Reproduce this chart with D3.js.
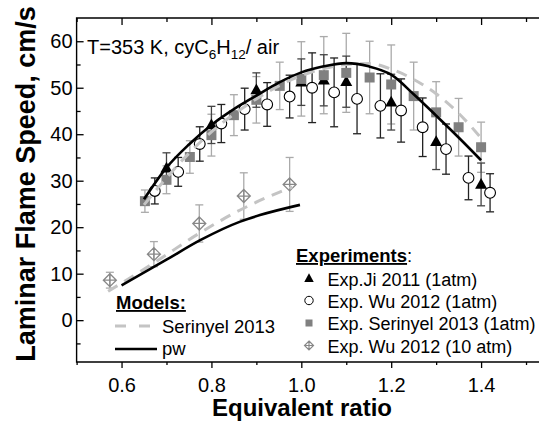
<!DOCTYPE html>
<html>
<head>
<meta charset="utf-8">
<script src="https://cdn.jsdelivr.net/npm/d3@7"></script>
<style>
  body { margin: 0; background: #fff; }
  text { font-family: "Liberation Sans", Arial, sans-serif; }
</style>
</head>
<body>
<script>
// data
let phiJi = [0.70, 0.80, 0.90, 1.00, 1.05, 1.10, 1.20, 1.30, 1.40];
let suJi = [32.7, 42.0, 49.5, 51.2, 51.6, 51.3, 46.9, 38.4, 29.2];
let errJi = [3.3, 4.0, 3.7, 5.0, 5.5, 5.5, 6.0, 6.0, 4.6];

let phiWu = [0.674, 0.726, 0.774, 0.822, 0.874, 0.924, 0.974, 1.024, 1.073, 1.124, 1.176, 1.222, 1.270, 1.322, 1.372, 1.420];
let suWu = [27.8, 31.9, 37.9, 42.3, 45.4, 46.4, 48.1, 50.0, 49.0, 47.6, 46.1, 45.1, 41.5, 36.8, 30.6, 27.4];
let errWu = [2.8, 3.1, 3.7, 4.1, 4.5, 4.7, 4.6, 7.5, 7.4, 7.5, 6.9, 6.8, 6.3, 5.4, 4.7, 4.1];

let phiSer = [0.652, 0.70, 0.752, 0.80, 0.85, 0.90, 0.952, 1.00, 1.05, 1.10, 1.152, 1.20, 1.25, 1.30, 1.35, 1.40];
let suSer = [25.6, 30.2, 35.1, 39.8, 44.1, 47.4, 50.4, 51.9, 52.7, 53.2, 52.2, 50.7, 48.2, 44.7, 41.5, 37.2];
let errSer = [2.4, 3.0, 3.5, 4.5, 4.4, 5.0, 5.1, 8.0, 8.3, 8.5, 7.8, 8.5, 7.3, 6.6, 6.2, 5.4];

let phiWu10 = [0.574, 0.672, 0.773, 0.872, 0.974];
let suWu10 = [8.6, 14.2, 20.8, 26.7, 29.2];
let errWu10 = [1.7, 2.7, 4.0, 5.0, 5.8];

// model curves
let phiModel1 = [0.65, 0.70, 0.75, 0.80, 0.85, 0.90, 0.95, 1.00, 1.05, 1.10, 1.15, 1.20, 1.25, 1.30, 1.35, 1.40];
let pw1 = [26.0, 32.8, 37.8, 42.0, 45.4, 48.3, 51.1, 53.3, 54.6, 55.3, 54.6, 52.8, 48.6, 44.0, 39.3, 34.4];
let ser1 = [24.8, 30.6, 35.9, 40.5, 44.3, 47.6, 50.4, 52.6, 54.1, 55.0, 55.2, 54.0, 51.8, 48.7, 44.5, 39.2];

let phiSer10 = [0.57, 0.672, 0.773, 0.864, 0.953, 0.98];
let ser10 = [6.2, 12.3, 18.7, 23.7, 27.6, 28.6];
let phiPw10 = [0.60, 0.70, 0.775, 0.864, 0.908, 0.997];
let pw10 = [7.5, 13.0, 17.2, 21.2, 22.6, 24.8];

let xMajor = [0.6, 0.8, 1.0, 1.2, 1.4];
let xMinor = [0.5, 0.7, 0.9, 1.1, 1.3, 1.5];
let yMajor = [0, 10, 20, 30, 40, 50, 60];
let yMinor = [-5, 5, 15, 25, 35, 45, 55];

let width = 539;
let height = 423;
let svg = d3.select("body").append("svg")
  .attr("width", width)
  .attr("height", height);

let x = d3.scaleLinear().domain([0.5, 1.55]).range([76.6, 548.5]);
let y = d3.scaleLinear().domain([-9, 65]).range([362, 18]);

// axes
svg.append("g")
  .attr("transform", "translate(0,362)")
  .call(d3.axisBottom(x).tickValues(xMajor).tickFormat(d3.format(".1f")).tickSize(6).tickPadding(9.5))
  .call(g => g.select(".domain").remove())
  .call(g => g.selectAll("text").attr("font-size", 20).attr("fill", "#000").style("font-family", "Liberation Sans, Arial, sans-serif"));
svg.append("g")
  .attr("transform", "translate(0,362)")
  .call(d3.axisBottom(x).tickValues(xMinor).tickFormat("").tickSize(3))
  .call(g => g.select(".domain").remove());
svg.append("g")
  .attr("transform", "translate(0,18)")
  .call(d3.axisTop(x).tickValues(xMajor).tickFormat("").tickSize(-7))
  .call(g => g.select(".domain").remove());
svg.append("g")
  .attr("transform", "translate(0,18)")
  .call(d3.axisTop(x).tickValues(xMinor).tickFormat("").tickSize(-4))
  .call(g => g.select(".domain").remove());
svg.append("g")
  .attr("transform", "translate(76.6,0)")
  .call(d3.axisLeft(y).tickValues(yMajor).tickSize(-7).tickPadding(4))
  .call(g => g.select(".domain").remove())
  .call(g => g.selectAll("text").attr("font-size", 20).attr("fill", "#000").style("font-family", "Liberation Sans, Arial, sans-serif"));
svg.append("g")
  .attr("transform", "translate(76.6,0)")
  .call(d3.axisLeft(y).tickValues(yMinor).tickFormat("").tickSize(-4))
  .call(g => g.select(".domain").remove());
svg.selectAll(".tick line").attr("stroke", "#000").attr("stroke-width", 1.3);

// frame
svg.append("path")
  .attr("d", "M548.5,18H76.6V362H548.5")
  .attr("fill", "none")
  .attr("stroke", "#000")
  .attr("stroke-width", 1.4);

// titles
svg.append("text")
  .attr("x", 302)
  .attr("y", 416)
  .attr("text-anchor", "middle")
  .attr("font-size", 24)
  .attr("font-weight", "bold")
  .text("Equivalent ratio");
svg.append("text")
  .attr("transform", "translate(35,184) rotate(-90)")
  .attr("text-anchor", "middle")
  .attr("font-size", 27)
  .attr("font-weight", "bold")
  .text("Laminar Flame Speed, cm/s");

let cond = svg.append("text")
  .attr("x", 87)
  .attr("y", 54)
  .attr("font-size", 20);
cond.append("tspan").text("T=353 K, cyC");
cond.append("tspan").attr("font-size", 13.5).attr("dy", 5).text("6");
cond.append("tspan").attr("dy", -5).text("H");
cond.append("tspan").attr("font-size", 13.5).attr("dy", 5).text("12");
cond.append("tspan").attr("dy", -5).text("/ air");

// error bars
function errorBars(phi, su, err, color) {
  let g = svg.append("g").attr("stroke", color).attr("stroke-width", 1.3);
  phi.forEach((p, i) => {
    let cx = x(p);
    g.append("line").attr("x1", cx).attr("x2", cx).attr("y1", y(su[i] - err[i])).attr("y2", y(su[i] + err[i]));
    g.append("line").attr("x1", cx - 4).attr("x2", cx + 4).attr("y1", y(su[i] - err[i])).attr("y2", y(su[i] - err[i]));
    g.append("line").attr("x1", cx - 4).attr("x2", cx + 4).attr("y1", y(su[i] + err[i])).attr("y2", y(su[i] + err[i]));
  });
}
errorBars(phiSer, suSer, errSer, "#aaaaaa");
errorBars(phiJi, suJi, errJi, "#444");
errorBars(phiWu, suWu, errWu, "#222");
errorBars(phiWu10, suWu10, errWu10, "#aaaaaa");

// markers
function triangle(s) {
  let h = s * 0.9;
  return "M0," + (-h * 0.6) + "L" + (s / 2) + "," + (h * 0.4) + "L" + (-s / 2) + "," + (h * 0.4) + "Z";
}
function diamond(s) {
  let r = s / 2;
  return "M0," + (-r) + "L" + r + ",0L0," + r + "L" + (-r) + ",0ZM0," + (-r) + "V" + r + "M" + (-r) + ",0H" + r;
}

svg.append("g").selectAll("path")
  .data(phiJi)
  .enter()
  .append("path")
  .attr("transform", (d, i) => "translate(" + x(d) + "," + y(suJi[i]) + ")")
  .attr("d", triangle(12))
  .attr("fill", "#000");

svg.append("g").selectAll("rect")
  .data(phiSer)
  .enter()
  .append("rect")
  .attr("x", d => x(d) - 5)
  .attr("y", (d, i) => y(suSer[i]) - 5)
  .attr("width", 10)
  .attr("height", 10)
  .attr("fill", "#808080");

svg.append("g").selectAll("circle")
  .data(phiWu)
  .enter()
  .append("circle")
  .attr("cx", d => x(d))
  .attr("cy", (d, i) => y(suWu[i]))
  .attr("r", 5.4)
  .attr("fill", "#fff")
  .attr("stroke", "#000")
  .attr("stroke-width", 1.1);

svg.append("g").selectAll("path")
  .data(phiWu10)
  .enter()
  .append("path")
  .attr("transform", (d, i) => "translate(" + x(d) + "," + y(suWu10[i]) + ")")
  .attr("d", diamond(13))
  .attr("fill", "none")
  .attr("stroke", "#888")
  .attr("stroke-width", 1.3);

// model lines
let line = d3.line().curve(d3.curveMonotoneX);
function modelLine(phi, su, color, dash) {
  svg.append("path")
    .attr("d", line(phi.map((p, i) => [x(p), y(su[i])])))
    .attr("fill", "none")
    .attr("stroke", color)
    .attr("stroke-width", dash ? 3 : 2.6)
    .attr("stroke-dasharray", dash ? "11,8" : null);
}
modelLine(phiModel1, ser1, "#c4c4c4", true);
modelLine(phiSer10, ser10, "#c4c4c4", true);
modelLine(phiModel1, pw1, "#000", false);
modelLine(phiPw10, pw10, "#000", false);

// models legend
svg.append("text")
  .attr("x", 116).attr("y", 309)
  .attr("font-size", 18.5).attr("font-weight", "bold")
  .attr("text-decoration", "underline")
  .text("Models:");
svg.append("line")
  .attr("x1", 115).attr("x2", 152).attr("y1", 326).attr("y2", 326)
  .attr("stroke", "#c4c4c4").attr("stroke-width", 3).attr("stroke-dasharray", "11,13");
svg.append("text").attr("x", 162).attr("y", 333).attr("font-size", 18.5).text("Serinyel 2013");
svg.append("line")
  .attr("x1", 115).attr("x2", 157).attr("y1", 349).attr("y2", 349)
  .attr("stroke", "#000").attr("stroke-width", 2.6);
svg.append("text").attr("x", 162).attr("y", 355).attr("font-size", 18.5).text("pw");

// experiments legend
let expTitle = svg.append("text")
  .attr("x", 296).attr("y", 262)
  .attr("font-size", 18.5);
expTitle.append("tspan").attr("font-weight", "bold").attr("text-decoration", "underline").text("Experiments");
expTitle.append("tspan").text(":");

let legNames = ["Exp.Ji 2011 (1atm)", "Exp. Wu 2012 (1atm)", "Exp. Serinyel 2013 (1atm)", "Exp. Wu 2012 (10 atm)"];
let legY = [278.5, 300.5, 323, 345.5];
legNames.forEach((n, i) => {
  svg.append("text").attr("x", 327.5).attr("y", legY[i] + 7).attr("font-size", 18).text(n);
});
svg.append("path").attr("transform", "translate(309," + legY[0] + ")").attr("d", triangle(9.5)).attr("fill", "#000");
svg.append("circle").attr("cx", 309).attr("cy", legY[1]).attr("r", 4.2).attr("fill", "#fff").attr("stroke", "#000").attr("stroke-width", 1);
svg.append("rect").attr("x", 305.5).attr("y", legY[2] - 3.5).attr("width", 7).attr("height", 7).attr("fill", "#808080");
svg.append("path").attr("transform", "translate(309," + legY[3] + ")").attr("d", diamond(9)).attr("fill", "none").attr("stroke", "#888").attr("stroke-width", 1.2);
</script>
</body>
</html>
